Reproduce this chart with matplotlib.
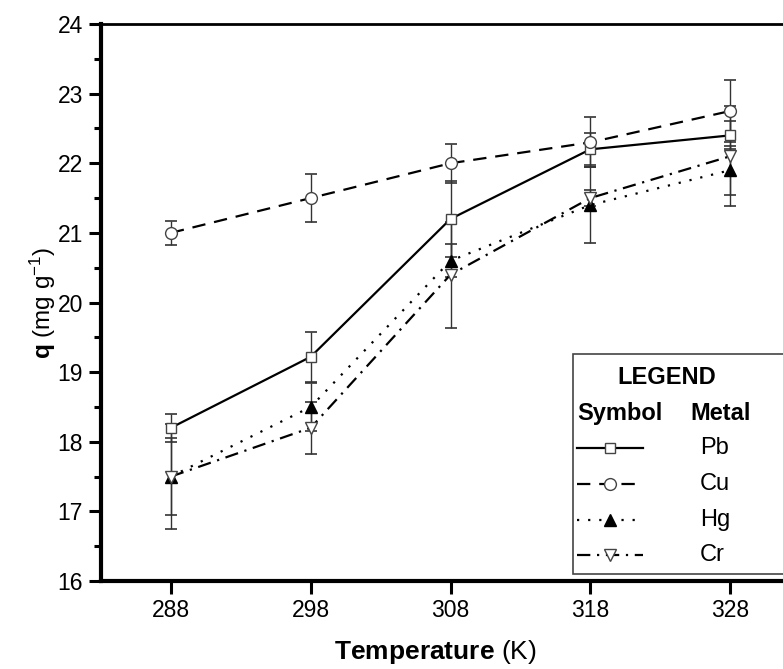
import matplotlib
matplotlib.use("Agg")
import matplotlib.pyplot as plt
from matplotlib.lines import Line2D
from matplotlib.patches import Rectangle
from matplotlib.ticker import MultipleLocator

plt.rcParams['font.family'] = ['Liberation Sans', 'DejaVu Sans']
plt.rcParams['mathtext.fontset'] = 'custom'
plt.rcParams['mathtext.rm'] = 'Liberation Sans'
plt.rcParams['mathtext.bf'] = 'Liberation Sans:bold'
plt.rcParams['mathtext.it'] = 'Liberation Sans:italic'

# ---- data ----
temperature = [288, 298, 308, 318, 328]
metals = ["Pb", "Cu", "Hg", "Cr"]
q_pb = [18.2, 19.22, 21.2, 22.2, 22.4]
q_cu = [21.0, 21.5, 22.0, 22.3, 22.75]
q_hg = [17.5, 18.5, 20.6, 21.4, 21.9]
q_cr = [17.5, 18.2, 20.4, 21.5, 22.1]
err_pb = [0.2, 0.36, 0.55, 0.23, 0.2]
err_cu = [0.17, 0.35, 0.28, 0.36, 0.45]
err_hg = [0.55, 0.35, 0.24, 0.55, 0.35]
err_cr = [0.75, 0.37, 0.76, 0.12, 0.72]
y_ticks = [16, 17, 18, 19, 20, 21, 22, 23, 24]
x_ticks = [288, 298, 308, 318, 328]

series = [
    (q_pb, err_pb, dict(marker='s', ms=7.5, mfc='white', mec='#444444', ls='-', dashes=(None, None))),
    (q_cu, err_cu, dict(marker='o', ms=8.5, mfc='white', mec='#444444', ls='--', dashes=(6, 4))),
    (q_hg, err_hg, dict(marker='^', ms=9, mfc='black', mec='black', ls=':', dashes=(1, 4))),
    (q_cr, err_cr, dict(marker='v', ms=9, mfc='white', mec='#444444', ls='-.', dashes=(6, 3, 1, 3))),
]

fig = plt.figure(figsize=(7.83, 6.69), dpi=100)
ax = fig.add_axes([101/783, 88/669, 699/783, 557/669])

for q, e, st in series:
    ax.errorbar(temperature, q, yerr=e, fmt='none', ecolor='#333333',
                elinewidth=1.0, capsize=4, capthick=1.2, zorder=2)
for q, e, st in series:
    kw = dict(st)
    dashes = kw.pop('dashes')
    ls = kw.pop('ls')
    line, = ax.plot(temperature, q, color='black', lw=1.6, mew=1.0, zorder=3, **kw)
    if ls != '-':
        line.set_dashes(dashes)

ax.set_xlim(283, 333)
ax.set_ylim(16, 24)
ax.set_xticks(x_ticks)
ax.set_yticks(y_ticks)
ax.yaxis.set_minor_locator(MultipleLocator(0.5))
ax.tick_params(axis='both', which='major', direction='out', length=9, width=2.2,
               labelsize=16.5, pad=4)
ax.tick_params(axis='y', which='minor', direction='out', length=5, width=2.2)
ax.spines['left'].set_linewidth(3)
ax.spines['bottom'].set_linewidth(3)
ax.spines['top'].set_linewidth(2)
ax.spines['right'].set_visible(False)

ax.set_xlabel(r"$\mathbf{Temperature}$ (K)", fontsize=19)
ax.set_ylabel(r"$\mathbf{q}$ (mg g$^{-1}$)", fontsize=17.5)
ax.xaxis.set_label_coords(0.479, -0.103)
ax.yaxis.set_label_coords(-0.062, 0.5)

# ---- custom legend box ----
box = Rectangle((0.675, 0.0126), 0.5, 0.395, transform=ax.transAxes,
                facecolor='white', edgecolor='#444444', lw=1.2, zorder=5, clip_on=False)
ax.add_patch(box)
ax.text(0.81, 0.366, "LEGEND", transform=ax.transAxes, fontsize=17, fontweight='bold',
        ha='center', va='center', zorder=6)
ax.text(0.681, 0.3016, "Symbol", transform=ax.transAxes, fontsize=17, fontweight='bold',
        ha='left', va='center', zorder=6)
ax.text(0.843, 0.3016, "Metal", transform=ax.transAxes, fontsize=17, fontweight='bold',
        ha='left', va='center', zorder=6)
row_y = [0.239, 0.174, 0.1095, 0.0467]
for (q, e, st), name, yy in zip(series, metals, row_y):
    kw = dict(st)
    dashes = kw.pop('dashes')
    ls = kw.pop('ls')
    ln = Line2D([0.681, 0.728, 0.775], [yy, yy, yy], transform=ax.transAxes,
                color='black', lw=1.6, mew=1.0, markevery=[1], zorder=6, **kw)
    if ls != '-':
        ln.set_dashes(dashes)
    ax.add_line(ln)
    ax.text(0.857, yy, name, transform=ax.transAxes, fontsize=17,
            ha='left', va='center', zorder=6)

fig.savefig("out.png", dpi=100)
